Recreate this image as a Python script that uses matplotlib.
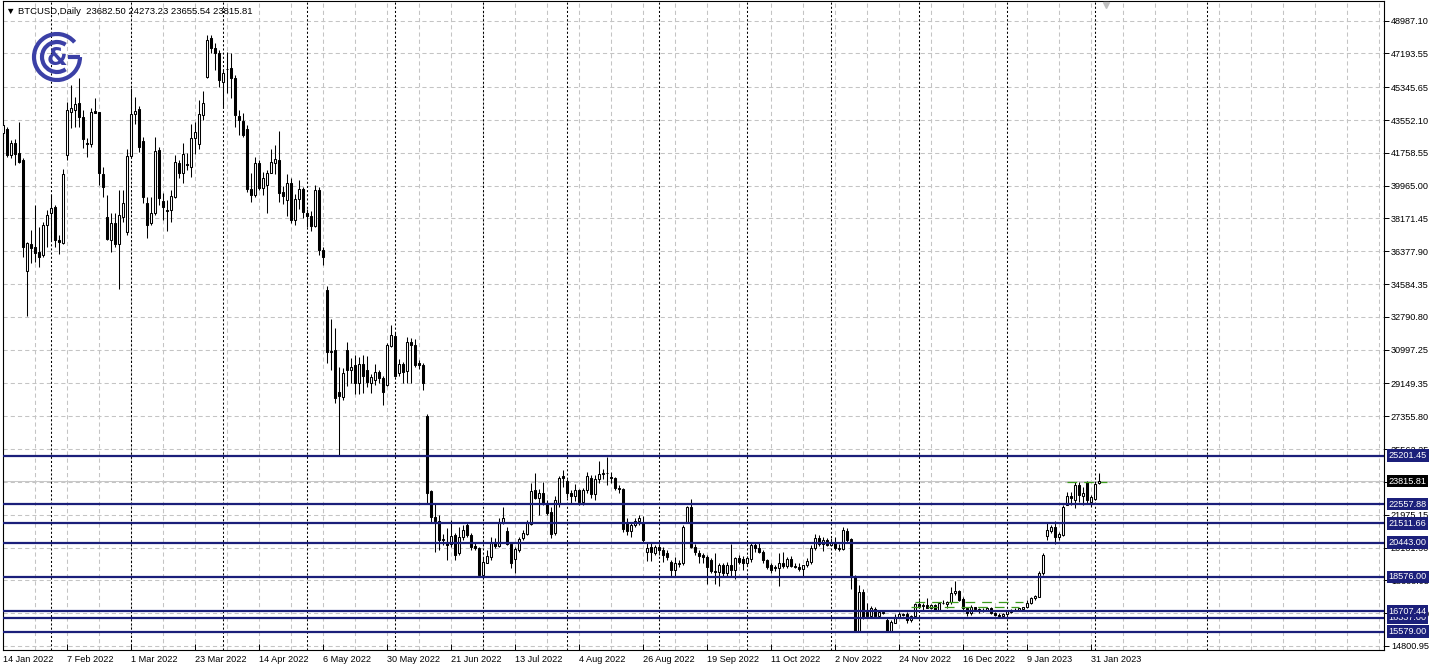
import numpy as np
import pandas as pd
import matplotlib
matplotlib.use("Agg")
import matplotlib.pyplot as plt
import matplotlib.transforms as mtransforms
from matplotlib.patches import Arc

##### Data: BTCUSD daily, one bar per weekday from 14 Jan 2022 #####
opens = [
    42830, 43050, 41640, 42280, 41730, 41370, 35320, 36780, 36630, 36350,
    36170, 37810, 38450, 38820, 36990, 36850, 41640, 44010, 44100, 44500,
    43700, 42300, 42240, 44060, 44010, 40600, 38270, 36990, 37900, 36800,
    38230, 37450, 41580, 43860, 44140, 42400, 39030, 37900, 38450, 41910,
    39140, 38630, 38630, 39360, 41220, 40640, 41150, 41000, 42550, 42240,
    43830, 45920, 48020, 47470, 47200, 45650, 46320, 46380, 45830, 43770,
    43500, 43060, 39760, 39450, 41190, 39820, 40000, 40680, 41220, 41370,
    39600, 39200, 40100, 38100, 39250, 39800, 38450, 38300, 37750, 39750,
    36450, 34260, 30890, 30980, 28700, 28390, 30980, 29890, 30160, 29160,
    30200, 29890, 29190, 29340, 29800, 29430, 29070, 31200, 31750, 29700,
    30200, 29850, 31440, 31250, 30290, 30160, 27390, 23270, 21870, 21650,
    20590, 20500, 20375, 20865, 19860, 20775, 21410, 20865, 20260, 20140,
    18680, 19350, 19680, 20410, 20260, 21500, 21100, 20370, 19530, 20050,
    20680, 20900, 21450, 23330, 22900, 23150, 22600, 22140, 20960, 22600,
    24090, 23840, 23180, 23000, 23300, 22650, 23330, 23960, 23110, 23900,
    24200, 24270, 24060, 23960, 23420, 23360, 21540, 21100, 21410, 21650,
    21500, 19950, 20190, 19860, 20190, 20050, 19860, 19410, 18950, 19350,
    19320, 21600, 22420, 20230, 19900, 19770, 19650, 19500, 18920, 18860,
    19230, 18810, 19230, 18950, 19590, 19530, 19320, 19540, 20320, 20150,
    19960, 19500, 19230, 19130, 19050, 19320, 19150, 19540, 19180, 19100,
    18990, 19200, 19400, 20140, 20680, 20370, 20590, 20320, 20450, 20140,
    20080, 21100, 20630, 18620, 15610, 17770, 16670, 16440, 16800, 16440,
    16650, 16220, 15600, 16070, 16400, 16520, 16550, 16220, 16440, 17090,
    16960, 17040, 16860, 17040, 16770, 17130, 17100, 17200, 17710, 17820,
    17360, 16860, 16580, 16910, 16800, 16730, 16770, 16860, 16620, 16490,
    16450, 16520, 16680, 16770, 16760, 16800, 16910, 17130, 17400, 17500,
    18770, 20810, 21100, 21320, 20740, 20870, 22500, 23000, 22780, 23600,
    23000, 23780, 22690, 22820, 23682.50,
]
highs = [
    43450, 43150, 42450, 42500, 43460, 41450, 36900, 37540, 38900, 37700,
    37990, 38630, 39450, 38900, 37260, 40850, 44560, 45470, 44830, 45830,
    44100, 42560, 44190, 44740, 44010, 41000, 39450, 38450, 38450, 39720,
    39720, 41950, 45300, 44830, 44320, 42640, 39360, 39360, 42610, 42100,
    39540, 39180, 39730, 41640, 41370, 42280, 41730, 43330, 43420, 44650,
    45150, 48200, 48200, 47740, 47380, 46320, 47290, 47200, 46010, 44100,
    43920, 43280, 40640, 41550, 41370, 40730, 40820, 41950, 42200, 42970,
    39950, 40600, 40400, 39500, 40300, 39900, 38700, 38600, 40000, 39900,
    36600, 34480, 32650, 32160, 30030, 29980, 31440, 30520, 30710, 30620,
    30710, 30650, 29670, 30200, 29890, 29560, 31340, 32350, 31980, 30470,
    30340, 31700, 31610, 31560, 30440, 30250, 27480, 23330, 22600, 21960,
    20900, 21230, 21690, 20950, 21300, 21410, 21590, 20960, 20500, 20230,
    19680, 20040, 20780, 20680, 21780, 22420, 21320, 20500, 20230, 20780,
    21140, 21690, 23690, 24240, 23400, 23750, 22800, 22420, 23000, 24100,
    24420, 23930, 23330, 23650, 23400, 23450, 24330, 24150, 24150, 24900,
    24450, 25150, 24330, 24060, 23600, 23420, 21780, 21590, 21780, 21960,
    21900, 20410, 20500, 20320, 20320, 20230, 20040, 19500, 19680, 19500,
    21410, 22450, 22820, 20370, 20040, 19860, 19770, 19590, 19860, 19320,
    19350, 19410, 20370, 19680, 19770, 19720, 19700, 20410, 20450, 20450,
    20050, 19540, 19320, 19230, 19900, 19950, 19680, 19700, 19350, 19350,
    19250, 19600, 20300, 20920, 20870, 20750, 20700, 20700, 20750, 20400,
    21290, 21230, 20700, 18700, 18130, 17900, 17130, 16990, 16950, 16750,
    16780, 16310, 16220, 16550, 16680, 16620, 16680, 16490, 17170, 17300,
    17150, 17400, 17100, 17080, 17200, 17300, 17250, 18000, 18350, 17850,
    17500, 16900, 17050, 16950, 16900, 16850, 16950, 16950, 16680, 16620,
    16600, 16780, 16800, 16850, 16900, 16950, 17300, 17450, 17600, 18900,
    19900, 21600, 21400, 21650, 21050, 22500, 23240, 23240, 23780, 23780,
    23510, 23840, 23050, 23730, 24273.23,
]
lows = [
    42650, 41550, 41500, 41090, 41220, 36080, 32840, 35720, 35810, 35530,
    36080, 36630, 36990, 36630, 36250, 36770, 41370, 43100, 43190, 43190,
    42000, 41510, 42100, 43920, 40000, 39360, 36990, 36360, 36600, 34300,
    37990, 37270, 41550, 43330, 41820, 38990, 37090, 37810, 38360, 38910,
    38090, 37500, 37990, 39270, 40360, 40090, 40820, 40460, 41700, 41950,
    43560, 45830, 47200, 46290, 45380, 44190, 45010, 44740, 43190, 42730,
    42640, 39640, 39090, 39360, 39730, 39450, 38490, 40640, 40600, 39090,
    38950, 38300, 37900, 37800, 38700, 38200, 37700, 37500, 37700, 36200,
    35600, 30250, 29880, 28060, 25200, 28250, 29010, 29160, 28570, 28570,
    28610, 28970, 28610, 29070, 29160, 27970, 29010, 31120, 29520, 29560,
    29160, 29190, 29200, 30060, 29930, 28790, 22600, 21500, 19960, 20040,
    20300, 19500, 20230, 19500, 19770, 20590, 20775, 20040, 20040, 18590,
    18590, 19310, 19500, 20140, 20230, 21470, 20320, 19040, 18810, 19950,
    20590, 20860, 21400, 22820, 21950, 22500, 21950, 20680, 20870, 22420,
    23510, 22900, 22600, 22750, 22500, 22500, 23150, 22900, 22800, 23700,
    23950, 23600, 23700, 23330, 23150, 21050, 20880, 20770, 21320, 21400,
    20500, 19460, 19460, 19780, 19780, 19400, 19500, 18550, 18590, 19130,
    19230, 21500, 20140, 19770, 19350, 19320, 18190, 18810, 18190, 18080,
    18590, 18590, 18590, 18440, 19280, 18950, 19200, 19400, 19950, 19880,
    19350, 19000, 18800, 18920, 18080, 19050, 19050, 19100, 19050, 18900,
    18590, 19100, 19300, 20050, 20250, 20000, 20250, 20250, 20050, 20000,
    20050, 20500, 17900, 15580, 15560, 16300, 16310, 16310, 16380, 16310,
    16530, 15579, 15540, 16030, 16350, 16430, 16050, 16130, 16400, 16850,
    16780, 16850, 16800, 16700, 16740, 17080, 16900, 17100, 17600, 17280,
    16750, 16450, 16500, 16700, 16600, 16650, 16700, 16550, 16450, 16400,
    16350, 16480, 16600, 16700, 16700, 16750, 16900, 17100, 17300, 17450,
    18700, 20590, 20950, 20400, 20600, 20800, 22500, 22500, 22320, 22690,
    22500, 22600, 22410, 22780, 23655.54,
]
closes = [
    43280, 41640, 42320, 41700, 41280, 36630, 36810, 36540, 36300, 36080,
    37810, 38360, 38720, 36990, 36900, 40600, 44100, 44190, 44430, 43700,
    42500, 42240, 44010, 43960, 40640, 39910, 37030, 37900, 36800, 38360,
    39000, 41580, 43860, 44060, 42100, 39360, 37810, 38450, 41880, 39270,
    38780, 38600, 39400, 41280, 40640, 41680, 41080, 42550, 42880, 43860,
    44500, 47930, 47470, 47240, 45740, 46100, 46330, 45830, 43830, 43550,
    42730, 39760, 39450, 41190, 39820, 40370, 40680, 41280, 41400, 39540,
    39400, 40100, 38100, 39250, 39800, 38500, 38300, 37750, 39750, 36450,
    36050, 30890, 30940, 28340, 28460, 29700, 29890, 30030, 29160, 30210,
    29560, 29250, 29490, 29800, 29430, 28700, 31250, 31800, 29560, 30200,
    29800, 31440, 31250, 30160, 30160, 29160, 23140, 21870, 21650, 20590,
    20630, 20320, 20810, 19770, 20775, 21140, 20865, 20190, 20140, 18680,
    19410, 19720, 20410, 20260, 21540, 21780, 20370, 19350, 20080, 20630,
    20960, 21500, 23290, 22900, 23150, 22600, 22090, 20920, 22780, 23960,
    23960, 23180, 23000, 23300, 22650, 23300, 24090, 23110, 23910, 24200,
    24270, 24250, 23960, 23420, 23380, 21180, 21100, 21410, 21650, 21780,
    20590, 20140, 19950, 20190, 20050, 19770, 19650, 18950, 19350, 19280,
    21280, 22420, 20230, 19950, 19720, 19650, 19130, 18920, 18860, 19230,
    18810, 19230, 18950, 19590, 19410, 19320, 19600, 20320, 20150, 19960,
    19500, 19130, 18950, 19050, 19320, 19150, 19540, 19180, 19100, 18990,
    19200, 19460, 20140, 20680, 20370, 20590, 20320, 20450, 20140, 20080,
    21140, 20590, 18590, 15610, 17770, 16400, 16440, 16860, 16440, 16670,
    16620, 15600, 16130, 16400, 16550, 16490, 16220, 16440, 17090, 16960,
    17040, 16860, 17040, 16770, 17130, 17170, 17200, 17710, 17820, 17310,
    16860, 16580, 16910, 16800, 16730, 16790, 16860, 16620, 16490, 16450,
    16520, 16730, 16770, 16760, 16860, 16910, 17170, 17400, 17530, 18770,
    19770, 21140, 21320, 20740, 20920, 22420, 23000, 22870, 23600, 23050,
    23140, 22780, 22930, 23650, 23815.81,
]

# horizontal support / resistance lines
levels = [25201.45, 22557.88, 21511.66, 20443.00, 18576.00, 16707.44, 16337.00, 15579.00]
# price scale labels
price_ticks = [48987.10, 47193.55, 45345.65, 43552.10, 41758.55, 39965.00, 38171.45,
               36377.90, 34584.35, 32790.80, 30997.25, 29149.35, 27355.80, 25562.25,
               23768.70, 21975.15, 20181.60, 18388.05, 16594.50, 14800.95]
# green dashed segments: price, first bar, last bar
green_prices = [17200, 16910, 23780]
green_start = [228, 227, 266]
green_end = [255, 254, 276]
# a vertical line drawn beyond the last bar
extra_vlines = [301]

header = "\u25bc BTCUSD,Daily  23682.50 24273.23 23655.54 23815.81"
last_price = 23815.81

##### Layout (pixels of the 1438x671 picture) #####
W, H = 1438, 671
ax_left, ax_right, ax_top, ax_bottom = 2.7, 1384, 1, 650
bar_px = 4.0
first_bar_px = 3.3
ymin, ymax = 14578, 50059
navy = "#1b1f7a"

plt.rcParams["font.family"] = ["Liberation Sans", "DejaVu Sans"]
plt.rcParams["lines.scale_dashes"] = False

fig = plt.figure(figsize=(W / 100, H / 100), dpi=100)
ax = fig.add_axes([ax_left / W, 1 - ax_bottom / H,
                   (ax_right - ax_left) / W, (ax_bottom - ax_top) / H])

o = np.array(opens, dtype=float)
h = np.array(highs, dtype=float)
l = np.array(lows, dtype=float)
c = np.array(closes, dtype=float)
x = np.arange(len(c))
dates = pd.bdate_range("2022-01-14", periods=len(c))

xmin = (ax_left - first_bar_px) / bar_px
xmax = (ax_right - first_bar_px) / bar_px
ax.set_xlim(xmin, xmax)
ax.set_ylim(ymin, ymax)

# grid: gray dashes, every 8 bars and at each price label
for gx in np.arange(8, xmax, 8):
    ax.axvline(gx, color="#c4c4c4", lw=0.75, ls=(0, (3, 2.2)), zorder=0.5)
for gy in price_ticks:
    ax.axhline(gy, color="#c4c4c4", lw=0.75, ls=(0, (3, 2.2)), zorder=0.5)

# month separators (black dotted)
month_start = [i for i in range(1, len(dates)) if dates[i].month != dates[i - 1].month]
for sx in month_start + extra_vlines:
    ax.axvline(sx, color="black", lw=0.75, ls=(0, (1.5, 1.5)), zorder=1)

# bid line
ax.axhline(last_price, color="#c8c8c8", lw=0.75, zorder=0.6)

# candles
ax.vlines(x, l, h, color="black", lw=0.75, zorder=2)
up = c >= o
ax.bar(x, np.abs(c - o), bottom=np.minimum(o, c), width=0.5,
       color=np.where(up, "white", "black"), edgecolor="black", linewidth=0.75, zorder=3)

# horizontal levels
for lv in levels:
    ax.axhline(lv, color=navy, lw=1.6, zorder=4)

# green dashed segments
ax.hlines(green_prices, green_start, green_end, colors="#3c9a1c", lw=0.9,
          linestyles=[(0, (7, 5))], zorder=4)

# shift marker at the top
ax.plot([xmax - 69.5], [ymax - 4 * (ymax - ymin) / (ax_bottom - ax_top)], marker="v",
        ms=5, color="#c0c0c0", clip_on=False, zorder=5)

# axes frame
for sp in ax.spines.values():
    sp.set_color("black")
    sp.set_linewidth(0.8)

# price scale on the right
ax.yaxis.tick_right()
ax.set_yticks(price_ticks)
ax.set_yticklabels(["%.2f" % v for v in price_ticks])
ax.tick_params(axis="y", length=3.5, width=0.7, pad=1.5, labelsize=6.6, colors="black")

# time scale: a label every 16 bars
label_bars = list(range(0, len(c), 16))
ax.set_xticks(label_bars)
ax.set_xticklabels(["%d %s" % (dates[i].day, dates[i].strftime("%b %Y")) for i in label_bars])
for t in ax.get_xticklabels():
    t.set_ha("left")
ax.tick_params(axis="x", length=4, width=0.7, direction="in", pad=3.5, labelsize=6.6)

# boxed labels for the levels (lower ones underneath) and the last price
box_tr = mtransforms.blended_transform_factory(ax.transAxes, ax.transData)
box_x = 1 + 4.5 / (ax_right - ax_left)
for n, lv in enumerate(sorted(levels)):
    ax.text(box_x, lv, "%.2f" % lv, transform=box_tr, ha="left", va="center",
            fontsize=6.6, color="white", clip_on=False, zorder=10 + n * 0.1,
            bbox=dict(boxstyle="square,pad=0.2", fc=navy, ec="none"))
ax.text(box_x, last_price, "%.2f" % last_price, transform=box_tr, ha="left", va="center",
        fontsize=6.6, color="white", clip_on=False, zorder=12,
        bbox=dict(boxstyle="square,pad=0.2", fc="black", ec="none"))

# header
fig.text(6 / W, 1 - 11 / H, header, fontsize=6.8, va="center", ha="left", color="black")

# logo
logo_color = "#3b40a6"
lax = fig.add_axes([30 / W, 1 - 85 / H, 56 / W, 56 / H])
lax.set_xlim(0, 56)
lax.set_ylim(0, 56)
lax.axis("off")
lax.add_patch(Arc((27, 28), 46, 46, theta1=40, theta2=360, color=logo_color, lw=3.0))
lax.add_patch(Arc((27, 28), 30, 30, theta1=55, theta2=305, color=logo_color, lw=3.0))
lax.plot([38, 50], [28, 28], color=logo_color, lw=3.0, solid_capstyle="butt")
lax.text(27, 27, "&", fontsize=17, fontweight="bold", color=logo_color,
         ha="center", va="center", family="DejaVu Sans")

fig.savefig("out.png", dpi=100)
